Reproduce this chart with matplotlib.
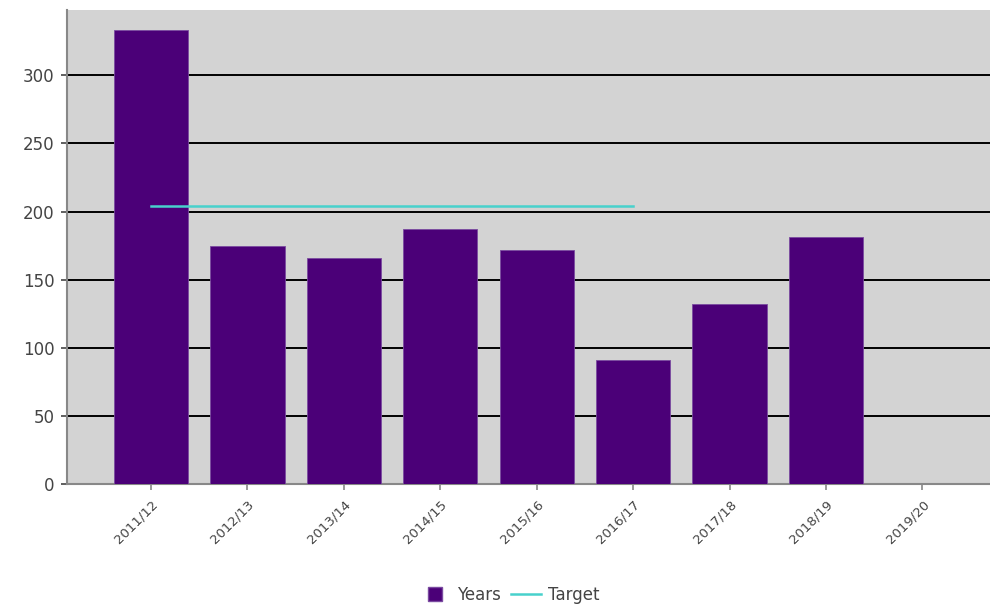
import numpy as np
import matplotlib.pyplot as plt
from matplotlib.lines import Line2D

# datos del grafico
years = ['2011/12', '2012/13', '2013/14', '2014/15', '2015/16',
         '2016/17', '2017/18', '2018/19', '2019/20']
values = [333, 175, 166, 187, 172, 91, 132, 181, 0]
target_years = ['2011/12', '2016/17']
target_value = 204

x = np.arange(len(years))
x_target = [years.index(y) for y in target_years]

fig = plt.figure(figsize=(9.9, 6.06), dpi=100)
ax = fig.add_axes([0.0677, 0.2013, 0.9323, 0.7822])
ax.set_facecolor('#d3d3d3')

ax.bar(x, values, width=0.77, color='#4b0078', edgecolor='#7a4aa0', linewidth=0.6, zorder=3)
ax.plot(x_target, [target_value, target_value], color='#48d1cc', linewidth=1.8, zorder=4)

ax.set_xlim(-0.87, 8.7)
ax.set_ylim(0, 348)
ax.set_yticks([0, 50, 100, 150, 200, 250, 300])
ax.yaxis.grid(True, color='black', linewidth=1.4, zorder=1)
ax.set_axisbelow(True)

ax.set_xticks(x)
ax.set_xticklabels(years, rotation=45, ha='right', rotation_mode='anchor', fontsize=9.5, color='#444444')
ax.tick_params(axis='y', labelsize=12, colors='#444444', length=4, width=1.2, pad=5)
ax.tick_params(axis='x', length=4, width=1.2, colors='#888888', labelcolor='#444444', pad=6)

for s in ['top', 'right']:
    ax.spines[s].set_visible(False)
for s in ['left', 'bottom']:
    ax.spines[s].set_color('#888888')
    ax.spines[s].set_linewidth(1.5)

handles = [Line2D([0], [0], marker='s', linestyle='none', markersize=10,
                  markerfacecolor='#4b0078', markeredgecolor='#7a4aa0', label='Years'),
           Line2D([0], [0], color='#48d1cc', linewidth=1.8, label='Target')]
fig.legend(handles=handles, loc='lower center', bbox_to_anchor=(0.515, -0.022), ncol=2,
           frameon=False, fontsize=12, handlelength=1.8,
           columnspacing=0.6, handletextpad=0.4, labelcolor='#444444')

plt.savefig('out.png', dpi=100)
